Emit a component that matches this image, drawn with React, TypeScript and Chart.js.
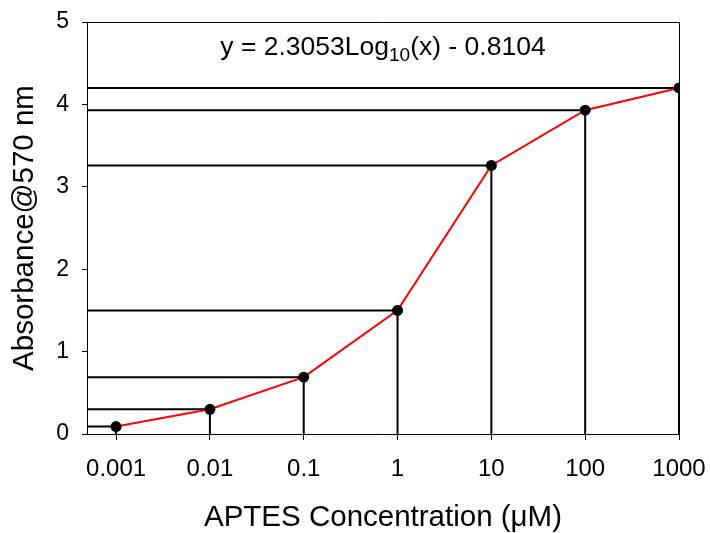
import React, { useEffect, useRef } from "react";
import { Chart, registerables } from "chart.js";

Chart.register(...registerables);

const concentrationLabels = ["0.001", "0.01", "0.1", "1", "10", "100", "1000"];
const logConcentration = [-3, -2, -1, 0, 1, 2, 3];
const absorbance = [0.09, 0.3, 0.69, 1.5, 3.26, 3.93, 4.2];
const yTicks = [0, 1, 2, 3, 4, 5];
const equationMain = "y = 2.3053Log";
const equationSub = "10";
const equationTail = "(x) - 0.8104";

const X_MIN = -3.31;
const X_MAX = 3;
const FONT = "'Liberation Sans', Arial, sans-serif";

export default function App() {
  const ref = useRef<HTMLCanvasElement | null>(null);

  useEffect(() => {
    if (!ref.current) return;

    const mainData = logConcentration.map((x, i) => ({ x, y: absorbance[i] }));
    const dropSets = logConcentration.map((x, i) => ({
      label: "drop" + i,
      data: [
        { x: X_MIN, y: absorbance[i] },
        { x, y: absorbance[i] },
        { x, y: 0 },
      ],
      showLine: true,
      borderColor: "#000",
      borderWidth: 2,
      pointRadius: 0,
      order: 2,
    }));

    const framePlugin = {
      id: "frame",
      afterDatasetsDraw(chart: any) {
        const { ctx, chartArea } = chart;
        ctx.save();
        ctx.strokeStyle = "#000";
        ctx.lineWidth = 1;
        ctx.beginPath();
        ctx.moveTo(chartArea.left, chartArea.top + 0.5);
        ctx.lineTo(chartArea.right + 0.5, chartArea.top + 0.5);
        ctx.lineTo(chartArea.right + 0.5, chartArea.bottom);
        ctx.stroke();
        // equation
        const mainFont = `26.5px ${FONT}`;
        const subFont = `19px ${FONT}`;
        ctx.fillStyle = "#000";
        ctx.textBaseline = "alphabetic";
        ctx.textAlign = "left";
        ctx.font = mainFont;
        const w1 = ctx.measureText(equationMain).width;
        const w3 = ctx.measureText(equationTail).width;
        ctx.font = subFont;
        const w2 = ctx.measureText(equationSub).width;
        const total = w1 + w2 + w3;
        const cx = (chartArea.left + chartArea.right) / 2;
        let x = cx - total / 2;
        const y = chartArea.top + 33;
        ctx.font = mainFont;
        ctx.fillText(equationMain, x, y);
        x += w1;
        ctx.font = subFont;
        ctx.fillText(equationSub, x, y + 6);
        x += w2;
        ctx.font = mainFont;
        ctx.fillText(equationTail, x, y);
        ctx.restore();
      },
    };

    const chart = new Chart(ref.current, {
      type: "scatter",
      data: {
        datasets: [
          {
            label: "Absorbance",
            data: mainData,
            showLine: true,
            borderColor: "#ff0000",
            borderWidth: 2,
            pointRadius: 5.5,
            pointBackgroundColor: "#000",
            pointBorderColor: "#000",
            pointBorderWidth: 0,
            order: 0,
          },
          ...dropSets,
        ] as any,
      },
      options: {
        animation: false,
        responsive: false,
        maintainAspectRatio: false,
        layout: { padding: { top: 22, right: 31, left: 0, bottom: 0 } },
        plugins: {
          legend: { display: false },
          tooltip: { enabled: false },
        },
        scales: {
          x: {
            type: "linear",
            min: X_MIN,
            max: X_MAX,
            afterBuildTicks: (scale: any) => {
              scale.ticks = logConcentration.map((v) => ({ value: v }));
            },
            afterFit: (scale: any) => {
              scale.height = 99;
              scale.paddingLeft = 0;
              scale.paddingRight = 0;
            },
            ticks: {
              color: "#000",
              font: { family: FONT, size: 24 },
              padding: 15,
              maxRotation: 0,
              autoSkip: false,
              callback: (v: any) => {
                const i = logConcentration.indexOf(Number(v));
                return i >= 0 ? concentrationLabels[i] : "";
              },
            },
            grid: {
              display: true,
              drawOnChartArea: false,
              drawTicks: true,
              tickLength: 6,
              color: "#000",
            },
            border: { display: true, color: "#000", width: 1 },
            title: {
              display: true,
              text: "APTES Concentration (μM)",
              color: "#000",
              font: { family: FONT, size: 29.5, lineHeight: 1 },
              padding: { top: 0, bottom: 0 },
            },
          },
          y: {
            type: "linear",
            min: 0,
            max: 5,
            afterBuildTicks: (scale: any) => {
              scale.ticks = yTicks.map((v) => ({ value: v }));
            },
            afterFit: (scale: any) => {
              scale.width = 87;
              scale.paddingTop = 0;
              scale.paddingBottom = 0;
            },
            ticks: {
              color: "#000",
              font: { family: FONT, size: 23 },
              padding: 13,
              callback: (v: any) => String(v),
            },
            grid: {
              display: true,
              drawOnChartArea: false,
              drawTicks: true,
              tickLength: 5,
              color: "#000",
            },
            border: { display: true, color: "#000", width: 1 },
            title: {
              display: true,
              text: "Absorbance@570 nm",
              color: "#000",
              font: { family: FONT, size: 29.5, lineHeight: 1 },
              padding: { top: 10, bottom: 0 },
            },
          },
        },
      },
      plugins: [framePlugin],
    });

    return () => chart.destroy();
  }, []);

  return (
    <div style={{ position: "absolute", left: 0, top: 0, width: 710, height: 533, background: "#fff" }}>
      <canvas ref={ref} width={710} height={533} style={{ display: "block" }} />
    </div>
  );
}
